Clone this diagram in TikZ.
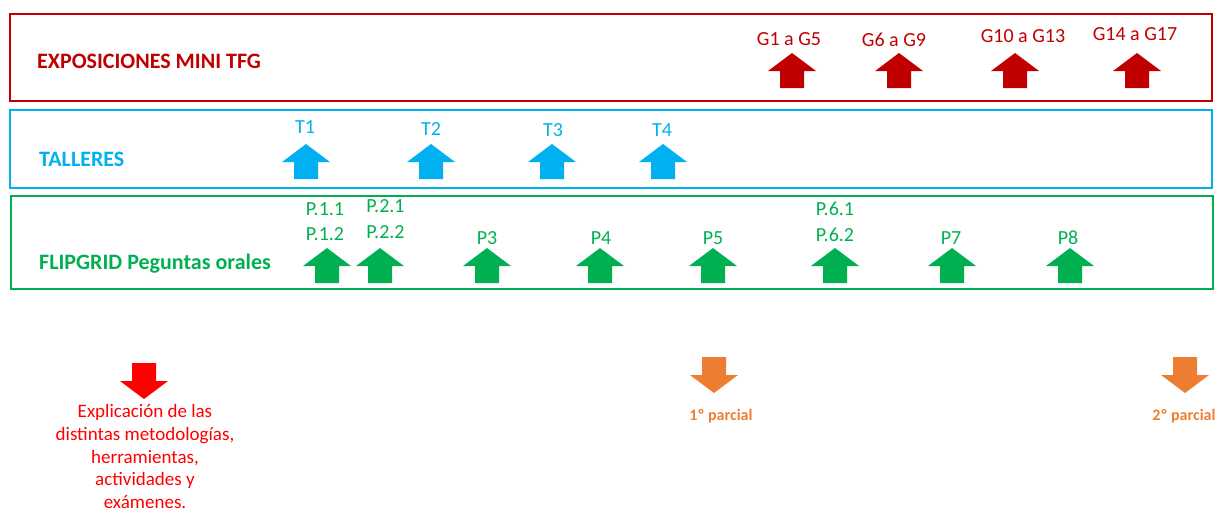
\documentclass[tikz,border=0pt]{standalone}
\usepackage{fontspec}
\setmainfont{Carlito}
\definecolor{garnet}{HTML}{C00000}
\definecolor{skyb}{HTML}{00B0F0}
\definecolor{grn}{HTML}{00B050}
\definecolor{brightred}{HTML}{FF0000}
\definecolor{orng}{HTML}{ED7D31}
\tikzset{
  band/.style={line width=1.2pt},
  title/.style={anchor=base west, inner sep=0pt, font=\fontsize{22}{26}\selectfont\bfseries},
  lbl/.style={anchor=base, inner sep=0pt, font=\fontsize{20}{24}\selectfont},
  parc/.style={anchor=base, inner sep=0pt, font=\fontsize{16}{19}\selectfont\bfseries},
  uparrow/.pic={\path[fill] (-24,0) -- (0,-18) -- (24,0) -- (12,0) -- (12,17) -- (-12,17) -- (-12,0) -- cycle;},
  downarrow/.pic={\path[fill] (-24,0) -- (0,18) -- (24,0) -- (12,0) -- (12,-18) -- (-12,-18) -- (-12,0) -- cycle;}
}
\begin{document}
\begin{tikzpicture}[x=1pt,y=-1pt]
\useasboundingbox (0,0) rectangle (1216,512);
% boxes
\draw[band, garnet] (10,14) rectangle (1212,101);
\draw[band, skyb] (10,110) rectangle (1212,188);
\draw[band, grn] (11,196) rectangle (1213,289);
% titles
\node[title, text=garnet] (tExp) at (37,68) {EXPOSICIONES MINI TFG};
\node[title, text=skyb] (tTal) at (39,166) {TALLERES};
\node[title, text=grn] (tFlip) at (39,269) {FLIPGRID  Peguntas orales};
% exposiciones
\begin{scope}[fill=garnet, text=garnet]
\pic at (792,71) {uparrow};
\pic at (899,71) {uparrow};
\pic at (1015,71) {uparrow};
\pic at (1137,71) {uparrow};
\node[lbl] (g1) at (789,45) {G1 a G5};
\node[lbl] (g2) at (894,46.5) {G6 a G9};
\node[lbl] (g3) at (1023,42.5) {G10 a G13};
\node[lbl] (g4) at (1135,40.5) {G14 a G17};
\end{scope}
% talleres
\begin{scope}[fill=skyb, text=skyb]
\pic at (306,162) {uparrow};
\pic at (431,162) {uparrow};
\pic at (552,162) {uparrow};
\pic at (663,162) {uparrow};
\node[lbl] (t1) at (305,133) {T1};
\node[lbl] (t2) at (431,135.5) {T2};
\node[lbl] (t3) at (553,136.5) {T3};
\node[lbl] (t4) at (662,136.5) {T4};
\end{scope}
% flipgrid
\begin{scope}[fill=grn, text=grn]
\pic at (327,266) {uparrow};
\pic at (380,266) {uparrow};
\pic at (487,266) {uparrow};
\pic at (600,266) {uparrow};
\pic at (713,266) {uparrow};
\pic at (835,266) {uparrow};
\pic at (952,266) {uparrow};
\pic at (1070,266) {uparrow};
\node[lbl] (p11) at (325,215.5) {P.1.1};
\node[lbl] (p12) at (325,240.5) {P.1.2};
\node[lbl] (p21) at (385.5,212.5) {P.2.1};
\node[lbl] (p22) at (385.5,238) {P.2.2};
\node[lbl] (p3) at (487,244.5) {P3};
\node[lbl] (p4) at (601,244.5) {P4};
\node[lbl] (p5) at (713,244.5) {P5};
\node[lbl] (p61) at (835,215.5) {P.6.1};
\node[lbl] (p62) at (835,241.5) {P.6.2};
\node[lbl] (p7) at (951,244.5) {P7};
\node[lbl] (p8) at (1068,244.5) {P8};
\end{scope}
% bottom
\pic[fill=brightred] at (144,381) {downarrow};
\node[anchor=north, inner sep=0pt, text=brightred, align=center,
  font=\fontsize{19}{22.8}\selectfont] (expl) at (145,404)
  {Explicación de las \\ distintas metodologías, \\ herramientas, \\ actividades y \\ exámenes.};
\begin{scope}[fill=orng, text=orng]
\pic at (714,375) {downarrow};
\pic at (1185,375) {downarrow};
\node[parc] (par1) at (721,420.5) {1º parcial};
\node[parc] (par2) at (1184,420.5) {2º parcial};
\end{scope}
\end{tikzpicture}
\end{document}
